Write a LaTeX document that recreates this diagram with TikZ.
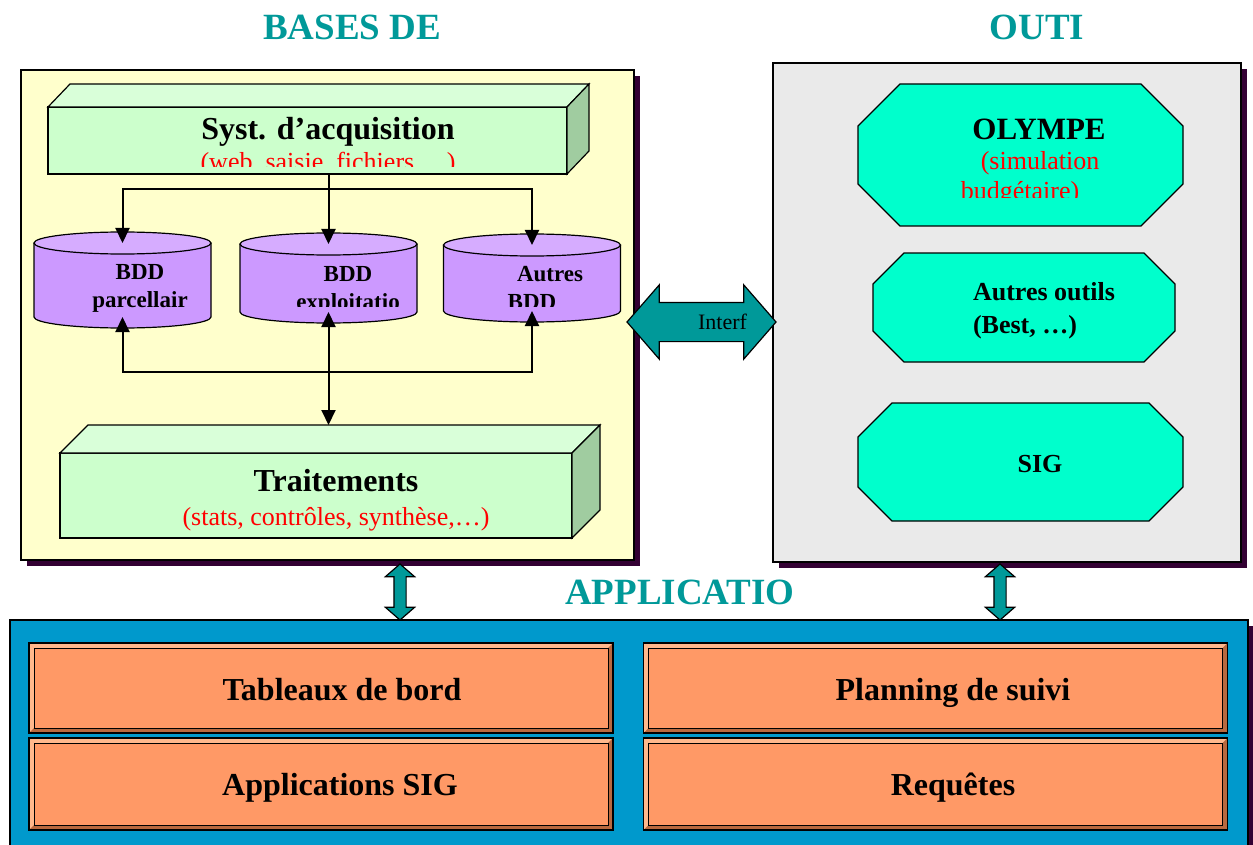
\documentclass[tikz,border=0pt]{standalone}
\usepackage{fontspec}
\setmainfont{Liberation Serif}
\usetikzlibrary{arrows.meta,calc,shadows,shapes.arrows}

\definecolor{fondjaune}{HTML}{FFFFCC}
\definecolor{fondgris}{HTML}{EAEAEA}
\definecolor{fondbleu}{HTML}{0099CC}
\definecolor{ombre}{HTML}{330033}
\definecolor{sarcelle}{HTML}{009999}
\definecolor{vertface}{HTML}{CCFFCC}
\definecolor{vertdessus}{HTML}{D9FFD9}
\definecolor{vertcote}{HTML}{A0CCA0}
\definecolor{violet}{HTML}{CC99FF}
\definecolor{violetclair}{HTML}{D6ACFF}
\definecolor{turquoise}{HTML}{00FFCC}
\definecolor{saumon}{HTML}{FF9966}
\definecolor{saumonclair}{HTML}{FFB88C}
\definecolor{saumonsombre}{HTML}{B8693F}
\definecolor{rouge}{HTML}{FF0000}

\tikzset{
  trait/.style={draw=black,line width=1.2pt},
  panneau/.style={trait,inner sep=0,outer sep=0,
    drop shadow={shadow xshift=6pt,shadow yshift=-6pt,fill=ombre,opacity=1}},
  face/.style={trait,fill=vertface,inner sep=0,outer sep=0},
  bdd/.style={inner sep=0,outer sep=0,minimum width=177},
  bouton/.style={draw=black,line width=1.8pt,fill=saumon,inner sep=0,outer sep=0,
    minimum width=584},
  titre/.style={anchor=base,text=sarcelle,font=\fontsize{37}{40}\selectfont\bfseries},
  gras/.style={anchor=base,font=\fontsize{32}{36}\selectfont\bfseries},
  boutontxt/.style={anchor=base,font=\fontsize{32}{35}\selectfont\bfseries},
  note/.style={anchor=base,text=rouge,font=\fontsize{26}{30}\selectfont},
  petit/.style={anchor=base,font=\fontsize{23}{26}\selectfont\bfseries},
  moyen/.style={anchor=base,font=\fontsize{26}{30}\selectfont\bfseries},
  fil/.style={line width=2pt},
  fl/.style={fil,-{Triangle[width=14pt,length=15pt]}},
  fl2/.style={fil,{Triangle[width=14pt,length=15pt]}-{Triangle[width=14pt,length=15pt]}},
  bloc/.style={double arrow,draw=black,line width=1.2pt,fill=sarcelle,
    double arrow tip angle=98,inner sep=0,outer sep=0},
}

\newcommand\pave[3]{%
  \filldraw[trait,fill=vertdessus] (#1.north west) -- ++(#2,-#3) -- ($(#1.north east)+(#2,-#3)$) -- (#1.north east) -- cycle;
  \filldraw[trait,fill=vertcote] (#1.north east) -- ++(#2,-#3) -- ($(#1.south east)+(#2,-#3)$) -- (#1.south east) -- cycle;
}

\newcommand\cylindre[1]{%
  \fill[violet] (#1.north west) -- (#1.south west) arc[start angle=180,end angle=360,x radius=88.5pt,y radius=11pt] -- (#1.north east) -- cycle;
  \draw[trait] (#1.north west) -- (#1.south west) arc[start angle=180,end angle=360,x radius=88.5pt,y radius=11pt] -- (#1.north east);
  \filldraw[trait,fill=violetclair] (#1.north) ellipse[x radius=88.5pt,y radius=11pt];
}

\newcommand\octo[5]{%
  \filldraw[trait,fill=turquoise] ({#1+#5},#2) -- ({#3-#5},#2) -- (#3,{#2+#5}) -- (#3,{#4-#5})
    -- ({#3-#5},#4) -- ({#1+#5},#4) -- (#1,{#4-#5}) -- (#1,{#2+#5}) -- cycle;
}

\newcommand\biseau[1]{%
  \fill[saumonclair] (#1.north west) -- (#1.north east) -- ++(-5,5) -- ($(#1.north west)+(5,5)$) -- cycle;
  \fill[saumonclair] (#1.north west) -- ($(#1.north west)+(5,5)$) -- ($(#1.south west)+(5,-5)$) -- (#1.south west) -- cycle;
  \fill[saumonsombre] (#1.south west) -- ($(#1.south west)+(5,-5)$) -- ($(#1.south east)+(-5,-5)$) -- (#1.south east) -- cycle;
  \fill[saumonsombre] (#1.north east) -- ($(#1.north east)+(-5,5)$) -- ($(#1.south east)+(-5,-5)$) -- (#1.south east) -- cycle;
  \draw[line width=1pt] ($(#1.north west)+(5,5)$) rectangle ($(#1.south east)+(-5,-5)$);
  \draw[line width=1.8pt] (#1.north west) rectangle (#1.south east);
}

\begin{document}
\begin{tikzpicture}[x=1pt,y=-1pt]
  \path[use as bounding box,fill=white] (0,0) rectangle (1253,845);

  \node[titre] (t-bases) at (352,40) {BASES DE};
  \node[titre] (t-outils) at (1037,40) {OUTI};
  \node[titre] (t-appli) at (680,604) {APPLICATIO};

  \node[panneau,fill=fondjaune,minimum width=613,minimum height=490] (bases) at (327.5,315) {};
  \node[panneau,fill=fondgris,minimum width=468,minimum height=499] (outils) at (1007,312.5) {};
  \node[panneau,fill=fondbleu,minimum width=1238,minimum height=240] (appli) at (629,740) {};

  \node[face,minimum width=519,minimum height=67] (syst) at (307.5,140.5) {};
  \pave{syst}{22}{23}
  \node[gras] (syst-titre) at (328,140) {Syst. d’acquisition};
  \begin{scope}
    \clip (syst.north west) rectangle (567,167);
    \node[note] (syst-note) at (328,171) {(web, saisie, fichiers,…)};
  \end{scope}

  \node[face,minimum width=512,minimum height=85] (traitements) at (316,495.5) {};
  \pave{traitements}{28}{28}
  \coordinate (trt-dos) at ($(traitements.north)+(28,-28)$);
  \node[gras] (trt-titre) at (336,491) {Traitements};
  \node[note] (trt-note) at (336,525) {(stats, contrôles, synthèse,…)};

  \node[bdd,minimum height=74] (bddparc) at (122.5,280) {};
  \node[bdd,minimum height=68] (bddexpl) at (328.5,278) {};
  \node[bdd,minimum height=66] (bddautres) at (532,278) {};
  \cylindre{bddparc}
  \cylindre{bddexpl}
  \cylindre{bddautres}
  \node[petit] (parc-1) at (140,279) {BDD};
  \node[petit] (parc-2) at (140,307) {parcellair};
  \begin{scope}
    \clip (230,230) rectangle (630,306);
    \node[petit] (expl-1) at (348,281) {BDD};
    \node[petit] (expl-2) at (348,309) {exploitatio};
    \node[petit] (aut-1) at (550,281) {Autres};
    \node[petit] (aut-2) at (532,309) {BDD};
  \end{scope}

  \coordinate (bus-haut) at (0,189);
  \coordinate (bus-bas) at (0,372);
  \draw[fl] (syst.south -| bddexpl.north) -- (bddexpl.north);
  \draw[fl] (bddexpl.north |- bus-haut) -| (bddparc.north);
  \draw[fl] (bddexpl.north |- bus-haut) -| (bddautres.north);
  \draw[fl] (bddexpl.south |- bus-bas) -| (bddparc.south);
  \draw[fl] (bddexpl.south |- bus-bas) -| (bddautres.south);
  \draw[fl2] (bddexpl.south) -- (bddexpl.south |- trt-dos);

  \octo{858}{84}{1183}{226}{42}
  \node[gras,font=\fontsize{31}{34}\selectfont\bfseries] (olympe) at (1039,140) {OLYMPE};
  \begin{scope}
    \clip (858,84) rectangle (1183,198);
    \node[note] (olympe-1) at (1040,170) {(simulation};
    \node[note] (olympe-2) at (1020,200) {budgétaire)};
  \end{scope}
  \octo{873}{253}{1175}{362}{31}
  \node[moyen] (autres-1) at (1044,300) {Autres outils};
  \node[moyen] (autres-2) at (1025,333) {(Best, …)};
  \octo{858}{403}{1183}{521}{34}
  \node[moyen] (sig) at (1040,472) {SIG};

  \node[bouton,minimum height=90] (tableaux) at (321,688) {};
  \node[bouton,minimum height=92] (applisig) at (321,784) {};
  \node[bouton,minimum height=90] (planning) at (935.5,688) {};
  \node[bouton,minimum height=92] (requetes) at (935.5,784) {};
  \biseau{tableaux}
  \biseau{applisig}
  \biseau{planning}
  \biseau{requetes}
  \node[boutontxt] (tableaux-txt) at (342,700) {Tableaux de bord};
  \node[boutontxt] (applisig-txt) at (340,795) {Applications SIG};
  \node[boutontxt] (planning-txt) at (953,700) {Planning de suivi};
  \node[boutontxt] (requetes-txt) at (953,795) {Requêtes};

  \node[bloc,minimum height=149,minimum width=73,inner ysep=19,double arrow head extend=17.5,
    label={[font=\fontsize{22}{26}\selectfont,xshift=21pt]center:Interf}] (interf) at (701.5,322) {};
  \node[bloc,rotate=90,minimum height=56,minimum width=28,inner ysep=5.5,double arrow head extend=8.5] (lien-bases) at (400,592) {};
  \node[bloc,rotate=90,minimum height=56,minimum width=28,inner ysep=5.5,double arrow head extend=8.5] (lien-outils) at (1000,592) {};
\end{tikzpicture}
\end{document}
